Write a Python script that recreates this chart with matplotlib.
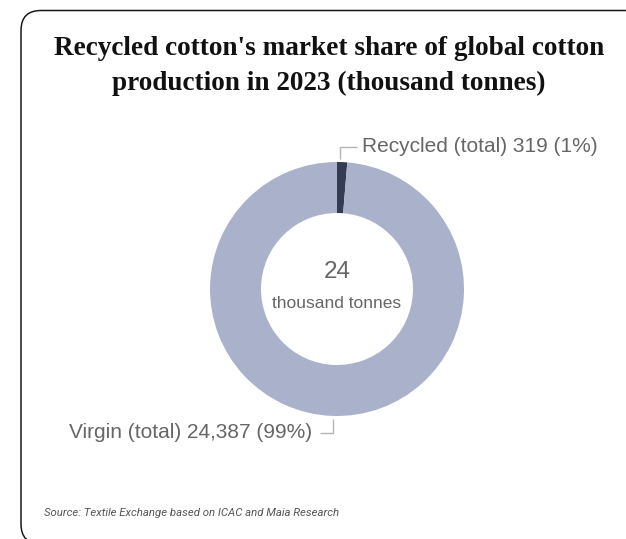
import matplotlib
matplotlib.use("Agg")
import matplotlib.pyplot as plt
from matplotlib.patches import FancyBboxPatch

# Global cotton production 2023, thousand tonnes
categories = ["Recycled (total)", "Virgin (total)"]
values = [319, 24387]
shares = ["1%", "99%"]
colors = ["#343b52", "#aab2cb"]

title_lines = ["Recycled cotton's market share of global cotton",
               "production in 2023 (thousand tonnes)"]
center_value = "24"
center_unit = "thousand tonnes"
source = "Source: Textile Exchange based on ICAC and Maia Research"

W, H = 626, 539
fig = plt.figure(figsize=(W / 100, H / 100), dpi=100)
ax = fig.add_axes([0, 0, 1, 1])

# card frame with rounded corners
card = FancyBboxPatch((21, -5), 604 + 20, H - 10.5 + 5,
                      boxstyle="round,pad=0,rounding_size=20",
                      fc="white", ec="#1a1a1a", lw=1.1, zorder=0)
ax.add_patch(card)

cx, cy = 337, H - 289
r_out, r_in = 127, 76
ax.pie(values, colors=colors, startangle=90, counterclock=False,
       radius=r_out, center=(cx, cy),
       wedgeprops=dict(width=r_out - r_in, linewidth=0))

ax.set_xlim(0, W)
ax.set_ylim(0, H)
ax.set_aspect("equal")
ax.axis("off")

# title
tfont = dict(family="Liberation Serif", weight="bold", color="#111111",
             fontsize=19.6, ha="center", va="baseline")
ax.text(329, H - 55, title_lines[0], **tfont)
ax.text(329, H - 90, title_lines[1], **tfont)

# centre text
ax.text(cx, H - 272, center_value, family="Liberation Sans", fontsize=17.5,
        color="#666666", ha="center", va="center")
ax.text(cx, H - 304, center_unit, family="Liberation Sans", fontsize=12.5,
        color="#666666", ha="center", va="center")

lab_font = dict(family="Liberation Sans", fontsize=15, color="#666666",
                va="center")
line_kw = dict(color="#b5b5b5", lw=1.0, solid_capstyle="butt")

# recycled label with leader
lab0 = f"{categories[0]} {values[0]:,} ({shares[0]})"
ax.plot([340, 340, 357], [H - 159, H - 146.5, H - 146.5], **line_kw)
ax.text(362, H - 146, lab0, ha="left", **lab_font)

# virgin label with leader
lab1 = f"{categories[1]} {values[1]:,} ({shares[1]})"
ax.plot([320, 333, 333], [H - 432.5, H - 432.5, H - 419], **line_kw)
ax.text(312, H - 432, lab1, ha="right", **lab_font)

# source note
ax.text(44, H - 516, source, family="Roboto", style="italic", fontsize=8.2,
        color="#555555", ha="left", va="baseline")

fig.savefig("out.png", dpi=100)
